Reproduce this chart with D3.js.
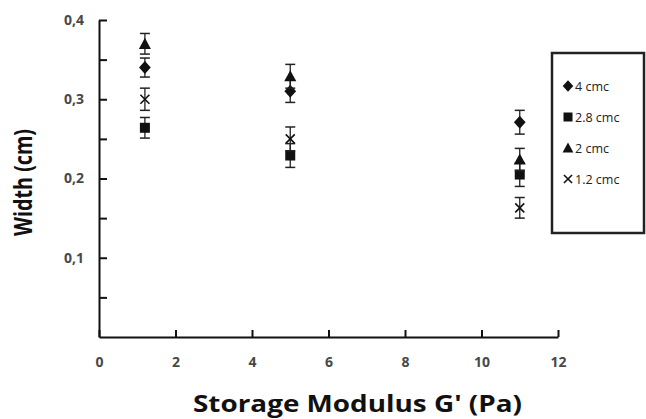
<!DOCTYPE html>
<html>
<head>
<meta charset="utf-8">
<title></title>
<style type="text/css">
  body{ margin:0; background:#fff; }
  .title{ font-family: "Open Sans", Lato, sans-serif; font-weight: bold; fill: #111; }
</style>
</head>
<body>
<div id="chart"></div>
<script src="https://d3js.org/d3.v7.min.js"></script>
<script>
// storage modulus (x) and the four concentrations
let gPrime = [1.2, 5, 11];
let seriesNames = ["4 cmc", "2.8 cmc", "2 cmc", "1.2 cmc"];
let width4 = [0.340, 0.310, 0.271];
let err4 = [0.012, 0.014, 0.015];
let width28 = [0.264, 0.229, 0.205];
let err28 = [0.013, 0.015, 0.015];
let width2 = [0.370, 0.329, 0.224];
let err2 = [0.013, 0.015, 0.014];
let width12 = [0.300, 0.250, 0.163];
let err12 = [0.014, 0.015, 0.013];
let xTicks = [0, 2, 4, 6, 8, 10, 12];
let yTicks = [0.05, 0.1, 0.15, 0.2, 0.25, 0.3, 0.35, 0.4];

let w = 646, h = 419;
let svg = d3.select("#chart").append("svg")
  .attr("width", w)
  .attr("height", h);

let x = d3.scaleLinear().domain([0, 12]).range([99, 558]);
let y = d3.scaleLinear().domain([0, 0.4]).range([337, 20]);

let series = [
  {name: seriesNames[0], vals: width4, errs: err4, sym: "diamond", r: 6.5},
  {name: seriesNames[1], vals: width28, errs: err28, sym: "square", r: 5},
  {name: seriesNames[2], vals: width2, errs: err2, sym: "triangle", r: 6},
  {name: seriesNames[3], vals: width12, errs: err12, sym: "cross", r: 4.5}
];

// axes
let yAxis = d3.axisLeft(y)
  .tickValues(yTicks)
  .tickSizeInner(-8)
  .tickSizeOuter(0)
  .tickPadding(15)
  .tickFormat(function(d){
    let r = Math.round(d * 100);
    return r % 10 === 0 ? d3.format(".1f")(d).replace(".", ",") : "";
  });
svg.append("g").attr("transform", "translate(" + x(0) + ",0)").call(yAxis);

let xAxis = d3.axisBottom(x)
  .tickValues(xTicks)
  .tickSizeInner(-7)
  .tickSizeOuter(0)
  .tickPadding(20)
  .tickFormat(d3.format("d"));
svg.append("g").attr("transform", "translate(0," + y(0) + ")").call(xAxis);

svg.selectAll(".domain").attr("stroke", "#111").attr("stroke-width", 2);
svg.selectAll(".tick line").attr("stroke", "#111").attr("stroke-width", 2);
svg.selectAll(".tick text")
  .attr("font-family", "'Open Sans', Lato, sans-serif")
  .attr("font-size", "14px")
  .attr("font-weight", "bold")
  .attr("fill", "#484848");

// axis titles
svg.append("text").attr("class", "title")
  .attr("x", 193).attr("y", 412)
  .attr("font-size", "23px")
  .attr("textLength", 329)
  .attr("lengthAdjust", "spacingAndGlyphs")
  .text("Storage Modulus G' (Pa)");
svg.append("text").attr("class", "title")
  .attr("transform", "translate(32,236) rotate(-90)")
  .attr("font-size", "25px")
  .attr("textLength", 107)
  .attr("lengthAdjust", "spacingAndGlyphs")
  .text("Width (cm)");

function drawMarker(g, sym, r){
  if(sym === "cross"){
    g.append("path").attr("d", "M" + (-r) + "," + (-r) + "L" + r + "," + r + "M" + (-r) + "," + r + "L" + r + "," + (-r))
      .attr("stroke", "#111").attr("stroke-width", 1.6).attr("fill", "none");
  } else if(sym === "diamond"){
    g.append("path").attr("d", "M0," + (-r) + "L" + (r * 0.9) + ",0L0," + r + "L" + (-r * 0.9) + ",0Z").attr("fill", "#111");
  } else if(sym === "square"){
    g.append("rect").attr("x", -r).attr("y", -r).attr("width", 2 * r).attr("height", 2 * r).attr("fill", "#111");
  } else {
    g.append("path").attr("d", "M0," + (-r) + "L" + r + "," + (r * 0.85) + "L" + (-r) + "," + (r * 0.85) + "Z").attr("fill", "#111");
  }
}

// error bars and markers
series.forEach(function(s){
  let g = svg.append("g");
  gPrime.forEach(function(gv, i){
    let cx = x(gv), lo = y(s.vals[i] - s.errs[i]), hi = y(s.vals[i] + s.errs[i]);
    g.append("line").attr("x1", cx).attr("x2", cx).attr("y1", lo).attr("y2", hi)
      .attr("stroke", "#222").attr("stroke-width", 1.3);
    [lo, hi].forEach(function(yy){
      g.append("line").attr("x1", cx - 5).attr("x2", cx + 5).attr("y1", yy).attr("y2", yy)
        .attr("stroke", "#222").attr("stroke-width", 1.5);
    });
    let m = g.append("g").attr("transform", "translate(" + cx + "," + y(s.vals[i]) + ")");
    drawMarker(m, s.sym, s.r);
  });
});

// legend
let lg = svg.append("g");
lg.append("rect").attr("x", 552).attr("y", 53).attr("width", 92).attr("height", 180)
  .attr("fill", "#fff").attr("stroke", "#222").attr("stroke-width", 2.5);
series.forEach(function(s, i){
  let row = lg.append("g").attr("transform", "translate(568," + (86 + i * 31) + ")");
  drawMarker(row, s.sym, s.r * 0.9);
  row.append("text").attr("x", 7).attr("y", 0)
    .attr("dominant-baseline", "central")
    .attr("font-family", "'Open Sans', Lato, sans-serif")
    .attr("font-size", "12.5px")
    .attr("fill", "#222")
    .text(s.name);
});
</script>
</body>
</html>
